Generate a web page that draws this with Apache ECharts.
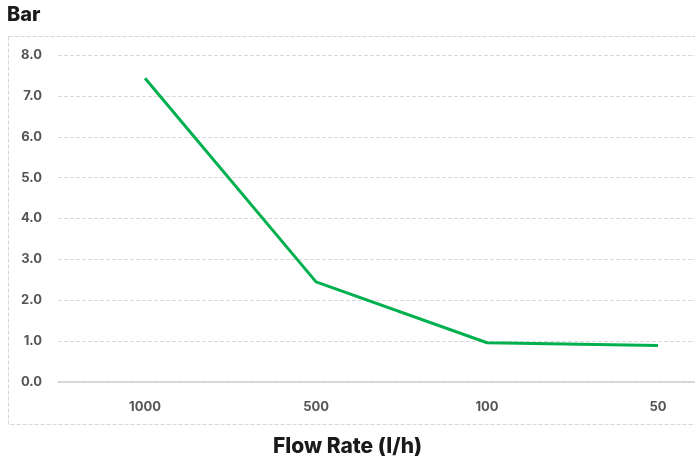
<!DOCTYPE html>
<html>
<head>
    <meta charset="utf-8" />
    <title>Flow Rate</title>
    <script src="https://cdn.jsdelivr.net/npm/echarts@6/dist/echarts.min.js"></script>
    <style>
        html, body { margin: 0; padding: 0; background: #fff; }
        #chart { width: 695px; height: 462px; }
    </style>
</head>
<body>
    <div id="chart"></div>
    <script type="text/javascript">
        // 数据
        var categories = ['1000', '500', '100', '50'];
        var pressure = [7.43, 2.45, 0.96, 0.89];
        var yTicks = [0, 1, 2, 3, 4, 5, 6, 7, 8];

        var points = [];
        for (var i = 0; i < pressure.length; i++) {
            points.push([i, pressure[i]]);
        }
        var catIdx = categories.map(function (c, i) { return i; });

        var font = 'Inter, "Noto Sans", sans-serif';
        var myChart = echarts.init(document.getElementById('chart'));

        myChart.setOption({
            animation: false,
            title: [{
                text: 'Bar',
                left: 7,
                top: 5,
                padding: 0,
                textStyle: { fontSize: 20, fontWeight: 800, color: '#1a1a1a', fontFamily: font }
            }, {
                text: 'Flow Rate (l/h)',
                left: 'center',
                top: 436,
                padding: 0,
                textStyle: { fontSize: 21, fontWeight: 800, color: '#1a1a1a', fontFamily: font }
            }],
            graphic: [{
                type: 'rect',
                shape: { x: 8.5, y: 36.5, width: 700, height: 388 },
                style: { fill: 'none', stroke: '#d6d6d6', lineWidth: 1, lineDash: [4, 2] },
                silent: true
            }],
            grid: {
                left: 58,
                right: 0,
                top: 55,
                bottom: 80,
                containLabel: false,
                outerBoundsMode: 'none'
            },
            xAxis: {
                type: 'value',
                min: -0.509,
                max: 3.216,
                axisLine: { show: true, lineStyle: { color: '#d0d0d0', width: 1.5 } },
                axisTick: { show: false },
                splitLine: { show: false },
                axisLabel: {
                    customValues: catIdx,
                    margin: 19,
                    fontSize: 13,
                    fontWeight: 'bold',
                    color: '#555',
                    fontFamily: font,
                    formatter: function (v) { return categories[Math.round(v)]; }
                }
            },
            yAxis: {
                type: 'value',
                min: yTicks[0],
                max: yTicks[yTicks.length - 1],
                interval: 1,
                axisLine: { show: false },
                axisTick: { show: false },
                splitLine: { show: true, lineStyle: { color: '#d9d9d9', type: [4, 2], width: 1 } },
                axisLabel: {
                    margin: 16,
                    fontSize: 13,
                    fontWeight: 'bold',
                    color: '#555',
                    fontFamily: font,
                    formatter: function (v) { return v.toFixed(1); }
                }
            },
            series: [{
                type: 'line',
                data: points,
                showSymbol: false,
                symbol: 'none',
                lineStyle: { color: '#00b04f', width: 3 },
                itemStyle: { color: '#00b04f' }
            }]
        });
    </script>
</body>
</html>
